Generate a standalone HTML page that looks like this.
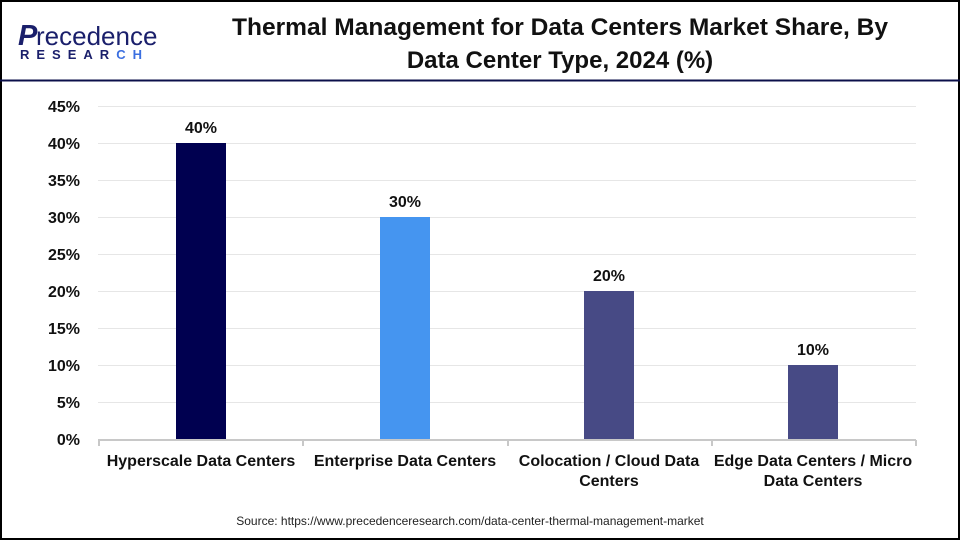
<!DOCTYPE html>
<html><head><style>
body{margin:0;width:960px;height:540px;overflow:hidden;background:#fff;font-family:"Liberation Sans",sans-serif}
</style></head><body>
<svg width="960" height="540" xmlns="http://www.w3.org/2000/svg" font-family="Liberation Sans, sans-serif">
<rect x="1" y="1" width="958" height="538" fill="#fff" stroke="#000" stroke-width="2"/>
<line x1="0" y1="80.5" x2="960" y2="80.5" stroke="#0b0f4a" stroke-width="2"/>
<text x="18" y="45" font-size="29" fill="#1a1f6b" font-weight="bold" font-style="italic">P</text>
<text x="36" y="45" font-size="26" fill="#1a1f6b">recedence</text>
<text x="20" y="59" font-size="13" font-weight="bold" fill="#1a1f6b" style="letter-spacing:7px">RESEAR<tspan fill="#3b6fe0">CH</tspan></text>
<text x="560" y="35" font-size="24" font-weight="bold" text-anchor="middle" fill="#111" textLength="656" lengthAdjust="spacingAndGlyphs">Thermal Management for Data Centers Market Share, By</text>
<text x="560" y="68" font-size="24" font-weight="bold" text-anchor="middle" fill="#111">Data Center Type, 2024 (%)</text>
<g stroke="#e6e6e6" stroke-width="1">
<line x1="98" x2="916" y1="106.5" y2="106.5"/><line x1="98" x2="916" y1="143.5" y2="143.5"/>
<line x1="98" x2="916" y1="180.5" y2="180.5"/><line x1="98" x2="916" y1="217.5" y2="217.5"/>
<line x1="98" x2="916" y1="254.5" y2="254.5"/><line x1="98" x2="916" y1="291.5" y2="291.5"/>
<line x1="98" x2="916" y1="328.5" y2="328.5"/><line x1="98" x2="916" y1="365.5" y2="365.5"/>
<line x1="98" x2="916" y1="402.5" y2="402.5"/>
</g>
<g font-size="16" font-weight="bold" text-anchor="end" fill="#111">
<text x="80" y="112">45%</text><text x="80" y="149">40%</text><text x="80" y="186">35%</text>
<text x="80" y="223">30%</text><text x="80" y="260">25%</text><text x="80" y="297">20%</text>
<text x="80" y="334">15%</text><text x="80" y="371">10%</text><text x="80" y="408">5%</text><text x="80" y="445">0%</text>
</g>
<rect x="176" y="143" width="50" height="296" fill="#000050"/>
<rect x="380" y="217" width="50" height="222" fill="#4595f0"/>
<rect x="584" y="291" width="50" height="148" fill="#474a85"/>
<rect x="788" y="365" width="50" height="74" fill="#474a85"/>
<g stroke="#c8c8c8" stroke-width="2">
<line x1="98" x2="916" y1="440" y2="440"/>
<line x1="99" x2="99" y1="440" y2="446"/><line x1="303" x2="303" y1="440" y2="446"/>
<line x1="508" x2="508" y1="440" y2="446"/><line x1="712" x2="712" y1="440" y2="446"/><line x1="916" x2="916" y1="440" y2="446"/>
</g>
<g font-size="16" font-weight="bold" text-anchor="middle" fill="#111">
<text x="201" y="133">40%</text><text x="405" y="207">30%</text><text x="609" y="281">20%</text><text x="813" y="355">10%</text>
<text x="201" y="466">Hyperscale Data Centers</text>
<text x="405" y="466">Enterprise Data Centers</text>
<text x="609" y="466">Colocation / Cloud Data</text><text x="609" y="486">Centers</text>
<text x="813" y="466">Edge Data Centers / Micro</text><text x="813" y="486">Data Centers</text>
</g>
<text x="470" y="525" font-size="12" text-anchor="middle" fill="#222">Source: https://www.precedenceresearch.com/data-center-thermal-management-market</text>
</svg>
</body></html>
